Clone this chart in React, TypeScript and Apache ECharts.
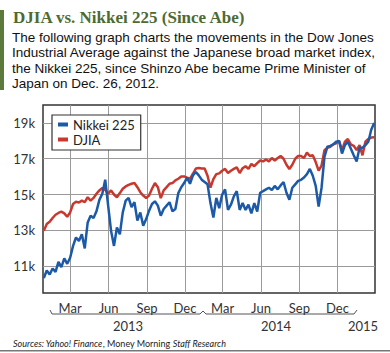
import React, { useEffect, useRef } from 'react';
import * as echarts from 'echarts';

// Weekly closes, first week ending 2012-12-28
const firstWeek = [2012, 11, 28];
const nikkei = [
  10340, 10760, 10530, 10870, 10680, 11240, 10940, 11430, 11130, 11470,
  12130, 12600, 12410, 12780, 11990, 13440, 13820, 13690, 14060, 14700,
  15040, 15830, 14380, 12970, 12130, 13160, 12780, 14000, 14660, 14810,
  14290, 14570, 13540, 14000, 13250, 13630, 14100, 14470, 14620, 14380,
  13820, 14190, 14380, 14570, 14060, 14190, 15080, 15410, 15640, 15940,
  15600, 16070, 16260, 16070, 15830, 15700,
  15570, 14520, 13720, 14810, 14240, 15000, 15290, 14140, 14430, 14900,
  15190, 14140, 14520, 14140, 14430, 13950, 14520, 14050, 15100, 15190,
  15290, 15380, 15250, 15480, 15290, 15510, 15700, 15100, 14710, 15380,
  15570, 15760, 15820, 15950, 16140, 16430, 16050, 15480, 14330, 15380,
  17100, 17670, 17720, 17800, 17950, 17990, 17290, 17760, 17950, 17570,
  17190, 16850, 17610, 17610, 17760, 17950, 18620, 19000
];
const djia = [
  12970, 13350, 13480, 13690, 13870, 13970, 14040, 13950, 13760, 14000,
  14470, 14600, 14550, 14660, 14570, 14850, 14660, 14810, 15040, 15230,
  15360, 15260, 15040, 15230, 15000, 14850, 15080, 15320, 15450, 15540,
  15600, 15640, 15410, 15130, 14940, 14810, 14940, 15320, 15640, 15410,
  14800, 15230, 15410, 15600, 15640, 15790, 15880, 16010, 16010, 15940,
  15880, 16160, 16450, 16480, 16450, 16450,
  16050, 15380, 15860, 16140, 16180, 16330, 16430, 16200, 16330, 16430,
  16520, 16200, 16470, 16580, 16430, 16710, 16580, 16750, 16900, 16850,
  16960, 16850, 17040, 16900, 17040, 17150, 17000, 16660, 16430, 16660,
  17000, 17150, 17150, 17040, 17340, 17150, 17190, 16810, 16330, 16620,
  17480, 17610, 17670, 17800, 17860, 17990, 17480, 17950, 18100, 17800,
  17720, 17480, 17760, 17190, 17950, 18100, 18180, 18200
];
const seriesNames = ['Nikkei 225', 'DJIA'];
const yTicks = [11000, 13000, 15000, 17000, 19000];
const monthTicks = [
  '2013-03-01', '2013-06-01', '2013-09-01', '2013-12-01',
  '2014-03-01', '2014-06-01', '2014-09-01', '2014-12-01'
];
const monthNames = ['Jan', 'Feb', 'Mar', 'Apr', 'May', 'Jun', 'Jul', 'Aug', 'Sep', 'Oct', 'Nov', 'Dec'];
const yearLabels = ['2013', '2014', '2015'];
const axisStart = '2012-12-26';
const axisEnd = '2015-03-01';

const titleText = 'DJIA vs. Nikkei 225 (Since Abe)';
const bodyLines = [
  'The following graph charts the movements in the Dow Jones',
  'Industrial Average against the Japanese broad market index,',
  'the Nikkei 225, since Shinzo Abe became Prime Minister of',
  'Japan on Dec. 26, 2012.'
];

function ts(s: string): number {
  const [y, m, d] = s.split('-').map(Number);
  return new Date(y, m - 1, d).getTime();
}

export default function App() {
  const ref = useRef<HTMLDivElement>(null);
  useEffect(() => {
    if (!ref.current) return;
    const chart = echarts.init(ref.current, null, { renderer: 'svg' });
    const dates = nikkei.map((_, i) => new Date(firstWeek[0], firstWeek[1], firstWeek[2] + 7 * i).getTime());
    const monthTs = monthTicks.map(ts);
    const font = 'Lato';
    const yearX = [128, 276, 363];
    const bodyY = [37.5, 52.8, 68.1, 83.4];
    const graphic: any[] = [
      { type: 'rect', shape: { x: 0, y: 10, width: 4, height: 80 }, style: { fill: '#5b7a3c' } },
      {
        type: 'text', x: 13, y: 17,
        style: { text: titleText, fontFamily: '"Liberation Serif"', fontWeight: 'bold', fontSize: 17, fill: '#4e6a33', verticalAlign: 'middle' }
      },
      ...bodyLines.map((t, i) => ({
        type: 'text', x: 12, y: bodyY[i],
        style: { text: t, fontFamily: '"Liberation Sans"', fontSize: 13.5, lineHeight: 15, fill: '#111', verticalAlign: 'middle' }
      })),
      {
        type: 'polyline',
        shape: { points: [[50, 310], [52, 314], [200, 314], [203, 311], [206, 314], [354, 314], [357, 310]] },
        style: { stroke: '#555', lineWidth: 1, fill: 'none' }
      },
      ...yearLabels.map((t, i) => ({
        type: 'text', x: yearX[i], y: 326,
        style: { text: t, fontFamily: font, fontSize: 13, fill: '#333', align: 'center', verticalAlign: 'middle' }
      })),
      {
        type: 'text', x: 13, y: 343,
        style: {
          text: '{i|Sources: Yahoo! Finance}{n|, Money Morning }{i|Staff Research}',
          verticalAlign: 'middle',
          rich: {
            i: { fontFamily: font, fontStyle: 'italic', fontSize: 9, fill: '#222' },
            n: { fontFamily: font, fontSize: 9, fill: '#222' }
          }
        }
      },
      { type: 'rect', shape: { x: 0, y: 350, width: 390, height: 1.5 }, style: { fill: '#777' } }
    ];
    chart.setOption({
      animation: false,
      backgroundColor: '#fff',
      grid: {
        left: 43, right: 15, top: 105, bottom: 60,
        show: true, borderColor: '#333', borderWidth: 1.5,
        containLabel: false, outerBoundsMode: 'none'
      },
      legend: {
        data: seriesNames,
        orient: 'vertical', left: 52, top: 115,
        backgroundColor: '#fff', borderColor: '#333', borderWidth: 1.2,
        padding: [3, 6, 4, 6], itemGap: 2,
        itemWidth: 10, itemHeight: 4, icon: 'rect',
        textStyle: { fontFamily: font, fontSize: 13, color: '#222', lineHeight: 13 }
      },
      xAxis: {
        type: 'value',
        min: ts(axisStart), max: ts(axisEnd),
        axisLine: { show: false },
        axisTick: { show: false, customValues: monthTs },
        axisLabel: {
          customValues: monthTs,
          formatter: (v: number) => monthNames[new Date(v).getMonth()],
          fontFamily: font, fontSize: 13, color: '#333', margin: 8, hideOverlap: false
        },
        splitLine: { show: true, lineStyle: { color: '#9a9a9a', width: 1 } }
      },
      yAxis: {
        type: 'value', min: 9500, max: 20000,
        axisLine: { show: false },
        axisTick: { show: false, customValues: yTicks },
        axisLabel: {
          customValues: yTicks,
          formatter: (v: number) => v / 1000 + 'k',
          fontFamily: font, fontSize: 13, color: '#333', margin: 8
        },
        splitLine: { show: true, lineStyle: { color: '#9a9a9a', width: 1 } }
      },
      series: [
        {
          name: seriesNames[1], type: 'line', showSymbol: false,
          data: dates.map((d, i) => [d, djia[i]]),
          lineStyle: { color: '#c8382e', width: 2.5 }, itemStyle: { color: '#c8382e' }
        },
        {
          name: seriesNames[0], type: 'line', showSymbol: false,
          data: dates.map((d, i) => [d, nikkei[i]]),
          lineStyle: { color: '#1c5aa8', width: 2.5 }, itemStyle: { color: '#1c5aa8' }
        }
      ],
      graphic
    });
    return () => chart.dispose();
  }, []);
  return <div ref={ref} style={{ position: 'fixed', left: 0, top: 0, width: 390, height: 353 }} />;
}
